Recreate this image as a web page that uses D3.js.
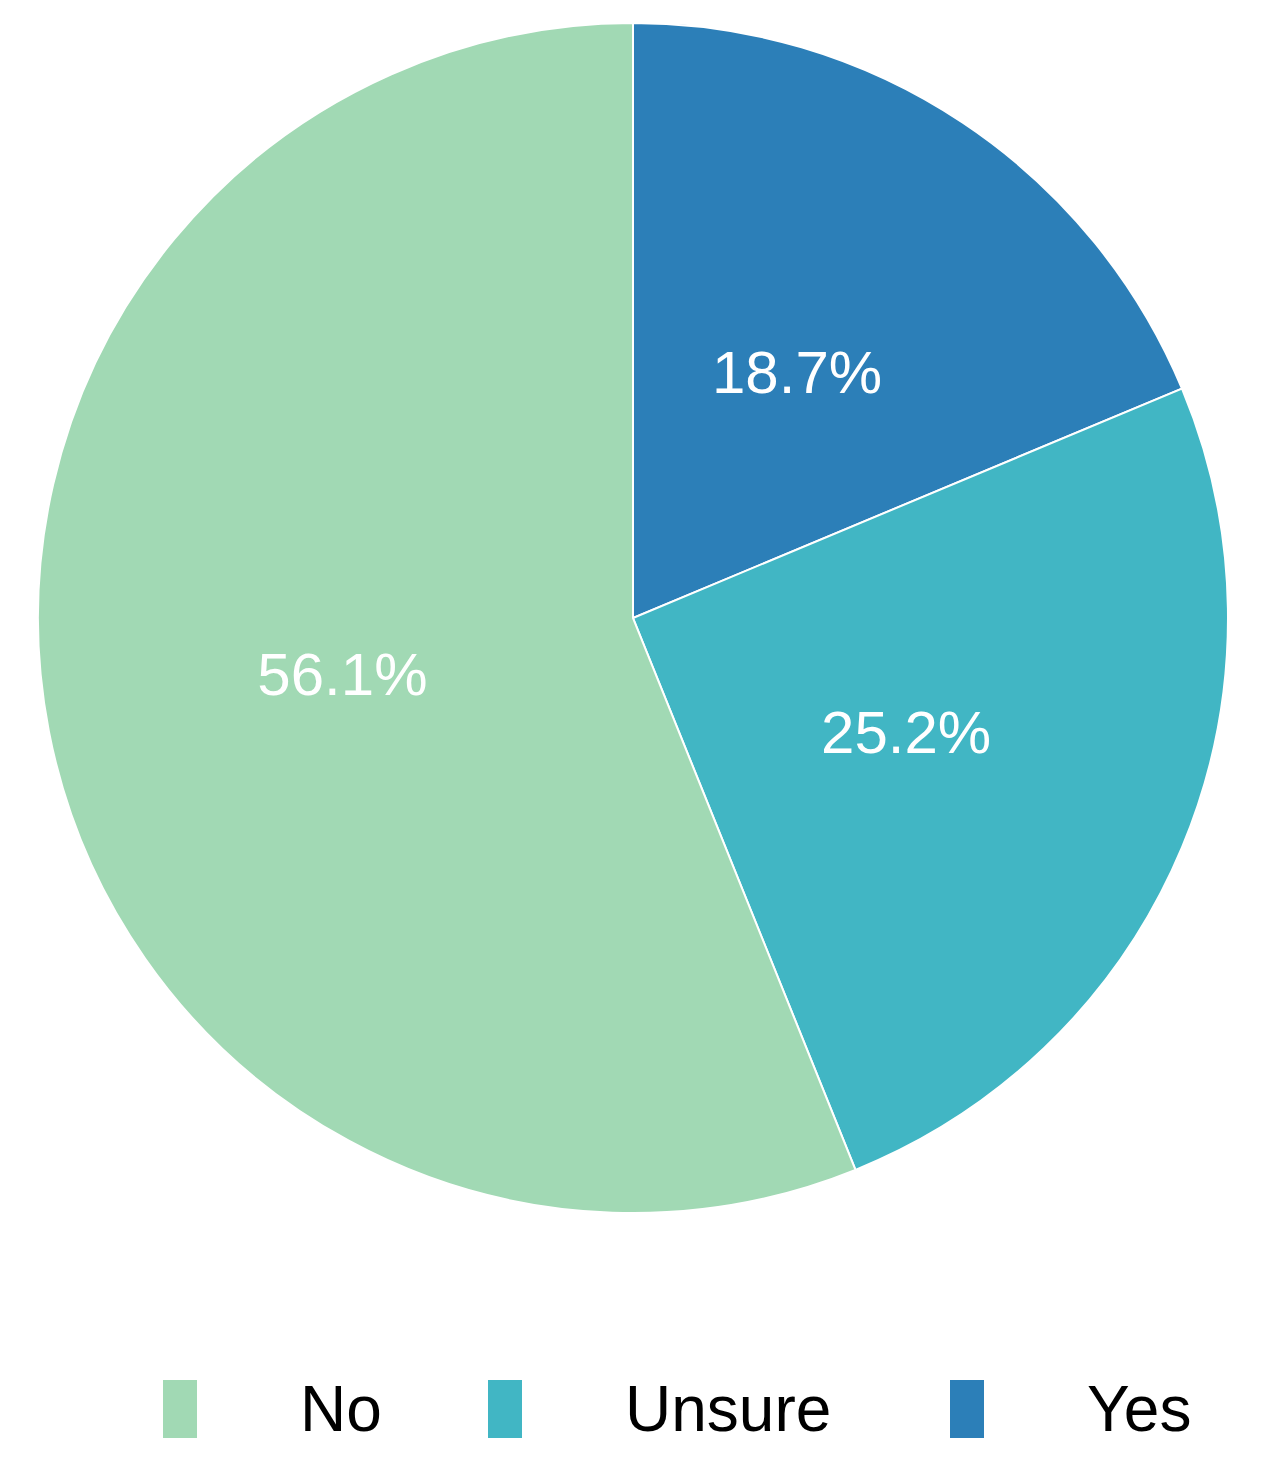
<!DOCTYPE html>
<html><head><meta charset="utf-8">
<script src="https://cdn.jsdelivr.net/npm/d3@7/dist/d3.min.js"></script>
<style>body{margin:0;background:#fff}</style></head>
<body><svg id="c" width="1268" height="1476"></svg>
<script>
const categories = ["Yes","Unsure","No"];
const values = [18.7,25.2,56.1];
const colors = ["#2c7fb8","#41b6c4","#a1d9b4"];
const legendOrder = ["No","Unsure","Yes"];

const svg = d3.select("#c");
const cx=633, cy=618, R=595;
const g = svg.append("g").attr("transform",`translate(${cx},${cy})`);
const pie = d3.pie().sort(null).value(d=>d)(values);
const arc = d3.arc().innerRadius(0).outerRadius(R);
const labelArc = d3.arc().innerRadius(296*2-R).outerRadius(R);
const color = d3.scaleOrdinal().domain(categories).range(colors);
g.selectAll("path").data(pie).join("path")
  .attr("d",arc).attr("fill",(d,i)=>color(categories[i]))
  .attr("stroke","#fff").attr("stroke-width",2);
g.selectAll("text").data(pie).join("text")
  .attr("transform",d=>{const c=d3.arc().innerRadius(296).outerRadius(296).centroid(d);return `translate(${c})`;})
  .attr("text-anchor","middle").attr("dy","0.35em")
  .attr("font-family","Liberation Sans, Arial, sans-serif").attr("font-size",60)
  .attr("fill","#fff").text(d=>d.data.toFixed(1)+"%");

const lx = d3.scaleOrdinal().domain(legendOrder).range([163,488,950]);
const lg = svg.append("g");
legendOrder.forEach(k=>{
  lg.append("rect").attr("x",lx(k)).attr("y",1380).attr("width",34).attr("height",58).attr("fill",color(k));
  lg.append("text").attr("x",lx(k)+137).attr("y",1431)
    .attr("font-family","Liberation Sans, Arial, sans-serif").attr("font-size",64).attr("fill","#000").text(k);
});
</script></body></html>
